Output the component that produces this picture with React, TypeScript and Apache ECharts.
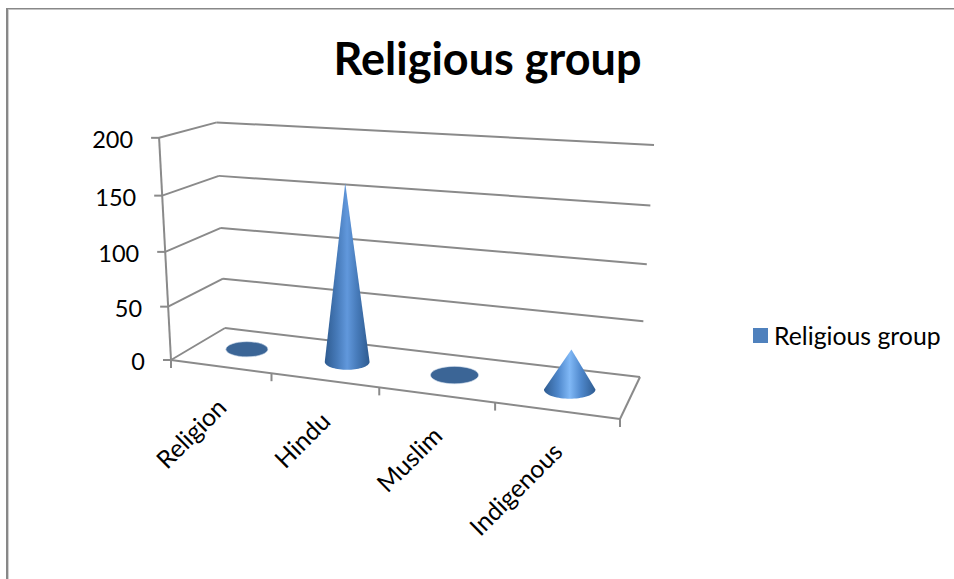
import React, { useEffect, useRef } from "react";
import * as echarts from "echarts";

const chartTitle = "Religious group";
const seriesName = "Religious group";
const categories = ["Religion", "Hindu", "Muslim", "Indigenous"];
const groupValues = [0, 161, 0, 35];
const valueTicks = [0, 50, 100, 150, 200];
const valueMax = 200;

const FONT = "Lato, 'Open Sans', sans-serif";
const LINE = "#8a8a8a";

// Hidden cartesian plane: the axes supply the scales, project() turns them into the 3D view.
const PLANE = { left: 150, top: 120, width: 500, height: 300 };

type Pt = [number, number];

function quadMap(p0: Pt, p1: Pt, p2: Pt, p3: Pt) {
  const dx1 = p1[0] - p2[0];
  const dx2 = p3[0] - p2[0];
  const sx = p0[0] - p1[0] + p2[0] - p3[0];
  const dy1 = p1[1] - p2[1];
  const dy2 = p3[1] - p2[1];
  const sy = p0[1] - p1[1] + p2[1] - p3[1];
  const den = dx1 * dy2 - dx2 * dy1;
  const g = (sx * dy2 - dx2 * sy) / den;
  const h = (dx1 * sy - sx * dy1) / den;
  const a = p1[0] - p0[0] + g * p1[0];
  const b = p3[0] - p0[0] + h * p3[0];
  const d = p1[1] - p0[1] + g * p1[1];
  const e = p3[1] - p0[1] + h * p3[1];
  return (u: number, v: number): Pt => {
    const q = g * u + h * v + 1;
    return [(a * u + b * v + p0[0]) / q, (d * u + e * v + p0[1]) / q];
  };
}

// Floor of the box: front-left, front-right, back-right, back-left.
const floorAt = quadMap([171, 360], [620, 419], [640, 377], [225, 328]);
// Verticals converge on this point far below the plot.
const VERTICAL_VANISH: Pt = [392, 4482];
// Height of the box at each floor corner, as a fraction of the way to the vanishing point.
const RISE = { fl: 0.0539, fr: 0.0615, br: 0.0565, bl: 0.0495 };
const HEIGHT_FORESHORTEN = 1.055;

function project(u: number, v: number, w: number): Pt {
  const a = floorAt(u, v);
  const front = RISE.fl + (RISE.fr - RISE.fl) * u;
  const back = RISE.bl + (RISE.br - RISE.bl) * u;
  const rise = front + (back - front) * v;
  const t = (rise * w) / (w + (1 - w) * HEIGHT_FORESHORTEN);
  return [a[0] - (VERTICAL_VANISH[0] - a[0]) * t, a[1] - (VERTICAL_VANISH[1] - a[1]) * t];
}

function toBox(api: any, category: number, value: number): [number, number] {
  const p = api.coord([category, value]);
  return [(p[0] - PLANE.left) / PLANE.width, 1 - (p[1] - PLANE.top) / PLANE.height];
}

const lineEl = (a: Pt, b: Pt) => ({
  type: "line",
  shape: { x1: a[0], y1: a[1], x2: b[0], y2: b[1] },
  style: { stroke: LINE, lineWidth: 2, fill: "none" },
});

const CONE_HALF_U = 0.054;
const CONE_HALF_V = 0.23;
const CONE_DEPTH = 0.5;

function renderValueTick(_: any, api: any) {
  const value = api.value(1) as number;
  const [, w] = toBox(api, 0, value);
  const fl = project(0, 0, w);
  const br = project(1, 1, w);
  const bl = project(0, 1, w);
  const children: any[] = [
    lineEl(fl, bl),
    lineEl(bl, br),
    lineEl([fl[0] - 8, fl[1]], fl),
    {
      type: "text",
      x: fl[0] - 26,
      y: fl[1] + 1,
      style: {
        text: String(value),
        fill: "#000",
        font: `23.5px ${FONT}`,
        align: "right",
        verticalAlign: "middle",
      },
    },
  ];
  return { type: "group", children };
}

function renderFrame(_: any, api: any) {
  const fl = project(0, 0, 0);
  const fr = project(1, 0, 0);
  const br = project(1, 1, 0);
  const top = project(0, 0, 1);
  return {
    type: "group",
    children: [lineEl(fl, top), lineEl(fl, fr), lineEl(fr, br), lineEl(fl, [fl[0], fl[1] + 8])],
  };
}

function renderCategory(params: any, api: any) {
  const idx = params.dataIndex;
  const [u] = toBox(api, idx, 0);
  const step = 1 / categories.length;
  const tick = project(u + step / 2, 0, 0);
  const mid = project(u, 0, 0);
  return {
    type: "group",
    children: [
      lineEl(tick, [tick[0], tick[1] + 8]),
      {
        type: "text",
        x: mid[0] + 1,
        y: mid[1] + 36,
        rotation: Math.PI / 4,
        style: {
          text: categories[idx],
          fill: "#000",
          font: `24.8px ${FONT}`,
          align: "right",
          verticalAlign: "middle",
        },
      },
    ],
  };
}

function renderCone(params: any, api: any) {
  const idx = params.dataIndex;
  const value = api.value(1) as number;
  const [u, w] = toBox(api, idx, value);
  const c = project(u, CONE_DEPTH, 0);
  const left = project(u - CONE_HALF_U, CONE_DEPTH, 0);
  const right = project(u + CONE_HALF_U, CONE_DEPTH, 0);
  const near = project(u, CONE_DEPTH - CONE_HALF_V, 0);
  const far = project(u, CONE_DEPTH + CONE_HALF_V, 0);
  const rx = (right[0] - left[0]) / 2;
  const ry = Math.abs(near[1] - far[1]) / 2;
  if (value === 0) {
    return {
      type: "ellipse",
      shape: { cx: c[0], cy: c[1], rx, ry },
      style: { fill: "#3b6596", stroke: "#c5d3e6", lineWidth: 0.6 },
    };
  }
  const apex = project(u, CONE_DEPTH, w);
  const outline: Pt[] = [apex];
  const steps = 36;
  for (let i = 0; i <= steps; i++) {
    const t = Math.PI * (1 - i / steps);
    outline.push([c[0] + rx * Math.cos(t), c[1] + ry * Math.sin(t)]);
  }
  // A squat cone catches more light on its sloping face than a tall one.
  const squat = w < 0.3;
  const shoulder = squat ? "#4f88cc" : "#477bba";
  const crest = squat ? "#80b8f6" : "#6198dc";
  return {
    type: "polygon",
    shape: { points: outline },
    style: {
      fill: new echarts.graphic.LinearGradient(0, 0, 1, 0, [
        { offset: 0, color: "#2e5b90" },
        { offset: 0.28, color: shoulder },
        { offset: 0.5, color: crest },
        { offset: 0.72, color: shoulder },
        { offset: 1, color: "#2e5b90" },
      ]),
    },
  };
}

export default function App() {
  const ref = useRef<HTMLDivElement>(null);

  useEffect(() => {
    if (!ref.current) return;
    const chart = echarts.init(ref.current, undefined, { renderer: "svg" });
    chart.setOption({
      animation: false,
      backgroundColor: "#fff",
      title: {
        text: chartTitle,
        left: 482.5,
        top: 30,
        textAlign: "center",
        textStyle: { fontFamily: FONT, fontSize: 45, fontWeight: "bold", color: "#000" },
      },
      legend: {
        data: [seriesName],
        left: 753,
        top: 323,
        padding: 0,
        icon: "rect",
        itemWidth: 15,
        itemHeight: 15,
        itemGap: 0,
        textStyle: { fontFamily: FONT, fontSize: 24.8, color: "#000", padding: [0, 0, 0, 1] },
      },
      grid: PLANE,
      xAxis: { type: "category", data: categories, show: false },
      yAxis: { type: "value", min: 0, max: valueMax, interval: 50, show: false },
      graphic: [
        { type: "rect", shape: { x: 6, y: 8, width: 948, height: 1.5 }, style: { fill: "#888" } },
        { type: "rect", shape: { x: 6, y: 8, width: 2.2, height: 571 }, style: { fill: "#888" } },
        { type: "rect", shape: { x: 8.2, y: 9.5, width: 0.8, height: 570 }, style: { fill: "#ccc" } },
      ],
      series: [
        {
          name: "axis frame",
          type: "custom",
          silent: true,
          z: 1,
          data: [[0, 0]],
          renderItem: renderFrame,
        },
        {
          name: "value ticks",
          type: "custom",
          silent: true,
          z: 1,
          data: valueTicks.map((t) => [0, t]),
          renderItem: renderValueTick,
        },
        {
          name: "category ticks",
          type: "custom",
          silent: true,
          z: 1,
          data: categories.map((_, i) => [i, 0]),
          renderItem: renderCategory,
        },
        {
          name: seriesName,
          type: "custom",
          z: 2,
          itemStyle: { color: "#4f81bd" },
          data: groupValues.map((v, i) => [i, v]),
          renderItem: renderCone,
        },
      ],
    });
    return () => chart.dispose();
  }, []);

  return <div ref={ref} style={{ position: "fixed", left: 0, top: 0, width: 954, height: 579 }} />;
}
